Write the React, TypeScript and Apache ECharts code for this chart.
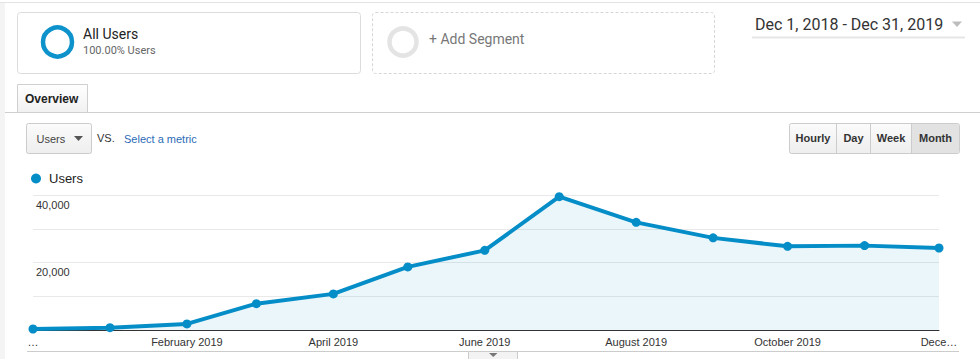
import React, { useEffect, useRef } from "react";
import * as echarts from "echarts";

const months = ["2018-12", "2019-01", "2019-02", "2019-03", "2019-04", "2019-05", "2019-06", "2019-07", "2019-08", "2019-09", "2019-10", "2019-11", "2019-12"];
const users = [300, 700, 1800, 7800, 10700, 18700, 23600, 39500, 31900, 27300, 24800, 25000, 24300];
const labelMonths = ["2018-12", "2019-02", "2019-04", "2019-06", "2019-08", "2019-10", "2019-12"];
const labelTexts = ["…", "February 2019", "April 2019", "June 2019", "August 2019", "October 2019", "Dece…"];
const yLabelValues = [20000, 40000];

const toTs = (m: string) => {
  const [y, mo] = m.split("-").map(Number);
  return Date.UTC(y, mo - 1, 1);
};

const ARIAL = "'Liberation Sans', Arial, sans-serif";
const ROBOTO = "Roboto, 'Liberation Sans', Arial, sans-serif";

export default function App() {
  const ref = useRef<HTMLDivElement>(null);
  useEffect(() => {
    if (!ref.current) return;
    const chart = echarts.init(ref.current, null, { renderer: "svg" });
    const labelMap: Record<number, string> = {};
    labelMonths.forEach((m, i) => (labelMap[toTs(m)] = labelTexts[i]));
    const btnGrad = new echarts.graphic.LinearGradient(0, 0, 0, 1, [
      { offset: 0, color: "#fbfbfb" },
      { offset: 1, color: "#eeeeee" },
    ]);
    const tabGrad = new echarts.graphic.LinearGradient(0, 0, 0, 1, [
      { offset: 0, color: "#ffffff" },
      { offset: 1, color: "#f1f1f1" },
    ]);
    const btnText = (x: number, t: string) => ({
      type: "text",
      x,
      y: 138,
      style: { text: t, font: `bold 11px ${ARIAL}`, fill: "#333", align: "center", verticalAlign: "middle" },
    });
    chart.setOption({
      animation: false,
      grid: { left: 33, right: 41, top: 195, bottom: 29 },
      legend: {
        left: 26,
        top: 167,
        icon: "circle",
        itemWidth: 10,
        itemHeight: 10,
        textStyle: { fontSize: 13, color: "#222", fontFamily: ARIAL, padding: [0, 0, 0, 3] },
        data: ["Users"],
      },
      xAxis: {
        type: "value",
        min: toTs(months[0]),
        max: toTs(months[months.length - 1]),
        axisLine: { lineStyle: { color: "#333", width: 1 } },
        axisTick: { show: false },
        splitLine: { show: false },
        axisLabel: {
          customValues: labelMonths.map(toTs),
          formatter: (v: number) => labelMap[v] ?? "",
          color: "#333",
          fontSize: 11,
          fontFamily: ARIAL,
          margin: 6,
          hideOverlap: false,
          showMinLabel: true,
          showMaxLabel: true,
        },
      },
      yAxis: {
        type: "value",
        min: 0,
        max: 40000,
        interval: 10000,
        axisLine: { show: false },
        axisTick: { show: false },
        splitLine: { lineStyle: { color: "#e9e9e9", width: 1 } },
        axisLabel: {
          inside: true,
          margin: 3,
          verticalAlign: "top",
          padding: [4, 0, 0, 0],
          color: "#333",
          fontSize: 11,
          fontFamily: ARIAL,
          formatter: (v: number) => (yLabelValues.includes(v) ? v.toLocaleString("en-US") : ""),
        },
      },
      series: [
        {
          name: "Users",
          type: "line",
          data: months.map((m, i) => [toTs(m), users[i]]),
          symbol: "circle",
          symbolSize: 9,
          showSymbol: true,
          color: "#058dc7",
          lineStyle: { width: 4, color: "#058dc7" },
          itemStyle: { color: "#058dc7" },
          areaStyle: { color: "rgba(5,141,199,0.11)" },
        },
      ],
      graphic: [
        { type: "rect", shape: { x: 0, y: 3, width: 5, height: 356 }, style: { fill: "#f4f4f4" } },
        { type: "line", shape: { x1: 0, y1: 2.5, x2: 980, y2: 2.5 }, style: { stroke: "#e3e3e3", lineWidth: 1 } },
        { type: "rect", shape: { x: 17.5, y: 12.5, width: 343, height: 61, r: 3 }, style: { fill: "#fff", stroke: "#dcdcdc", lineWidth: 1 } },
        { type: "circle", shape: { cx: 57.5, cy: 42, r: 14.5 }, style: { fill: "none", stroke: "#0e92cc", lineWidth: 4.5 } },
        { type: "text", x: 83, y: 34, style: { text: "All Users", font: `14px ${ROBOTO}`, fill: "#222", verticalAlign: "middle" } },
        { type: "text", x: 83, y: 50, style: { text: "100.00% Users", font: `11px ${ROBOTO}`, fill: "#666", verticalAlign: "middle" } },
        { type: "rect", shape: { x: 372.5, y: 12.5, width: 342, height: 61, r: 3 }, style: { fill: "#fff", stroke: "#d6d6d6", lineWidth: 1, lineDash: [3, 2] } },
        { type: "circle", shape: { cx: 403, cy: 42, r: 13.5 }, style: { fill: "none", stroke: "#e4e4e4", lineWidth: 4.5 } },
        { type: "text", x: 429, y: 39, style: { text: "+ Add Segment", font: `14px ${ROBOTO}`, fill: "#777", verticalAlign: "middle" } },
        { type: "text", x: 755, y: 24, style: { text: "Dec 1, 2018 - Dec 31, 2019", font: `16px ${ROBOTO}`, fill: "#333", verticalAlign: "middle" } },
        { type: "polygon", shape: { points: [[952, 21.5], [962, 21.5], [957, 27]] }, style: { fill: "#bdbdbd" } },
        { type: "line", shape: { x1: 752, y1: 37.5, x2: 965, y2: 37.5 }, style: { stroke: "#e6e6e6", lineWidth: 2 } },
        { type: "line", shape: { x1: 5, y1: 112.5, x2: 980, y2: 112.5 }, style: { stroke: "#cfcfcf", lineWidth: 1 } },
        { type: "rect", shape: { x: 17.5, y: 84.5, width: 70, height: 28 }, style: { fill: tabGrad, stroke: "#cfcfcf", lineWidth: 1 } },
        { type: "text", x: 25, y: 99, style: { text: "Overview", font: `bold 12px ${ARIAL}`, fill: "#222", verticalAlign: "middle" } },
        { type: "rect", shape: { x: 26.5, y: 123.5, width: 65, height: 30, r: 2 }, style: { fill: btnGrad, stroke: "#cccccc", lineWidth: 1 } },
        { type: "text", x: 36.5, y: 138.5, style: { text: "Users", font: `11px ${ARIAL}`, fill: "#444", verticalAlign: "middle" } },
        { type: "polygon", shape: { points: [[74, 136], [83, 136], [78.5, 141]] }, style: { fill: "#555" } },
        { type: "text", x: 97, y: 137.5, style: { text: "VS.", font: `11px ${ARIAL}`, fill: "#333", verticalAlign: "middle" } },
        { type: "text", x: 124, y: 138.5, style: { text: "Select a metric", font: `11px ${ARIAL}`, fill: "#2b6cb8", verticalAlign: "middle" } },
        { type: "rect", shape: { x: 789.5, y: 123.5, width: 170, height: 30, r: 2 }, style: { fill: btnGrad, stroke: "#cccccc", lineWidth: 1 } },
        { type: "rect", shape: { x: 912, y: 124, width: 47, height: 29 }, style: { fill: "#e2e2e2" } },
        { type: "line", shape: { x1: 836.5, y1: 124, x2: 836.5, y2: 153 }, style: { stroke: "#cccccc", lineWidth: 1 } },
        { type: "line", shape: { x1: 870.5, y1: 124, x2: 870.5, y2: 153 }, style: { stroke: "#cccccc", lineWidth: 1 } },
        { type: "line", shape: { x1: 911.5, y1: 124, x2: 911.5, y2: 153 }, style: { stroke: "#cccccc", lineWidth: 1 } },
        btnText(813, "Hourly"),
        btnText(853.5, "Day"),
        btnText(891, "Week"),
        btnText(935.5, "Month"),
        { type: "line", shape: { x1: 27, y1: 351.5, x2: 959, y2: 351.5 }, style: { stroke: "#cccccc", lineWidth: 1 } },
        { type: "rect", shape: { x: 468.5, y: 351.5, width: 49, height: 10 }, style: { fill: "#f3f3f3", stroke: "#cccccc", lineWidth: 1 } },
        { type: "polygon", shape: { points: [[489, 353], [497.5, 353], [493.25, 357]] }, style: { fill: "#777" } },
      ],
    });
    return () => chart.dispose();
  }, []);
  return (
    <div
      ref={ref}
      style={{ position: "absolute", left: 0, top: 0, width: 980, height: 359, background: "#fff" }}
    />
  );
}
